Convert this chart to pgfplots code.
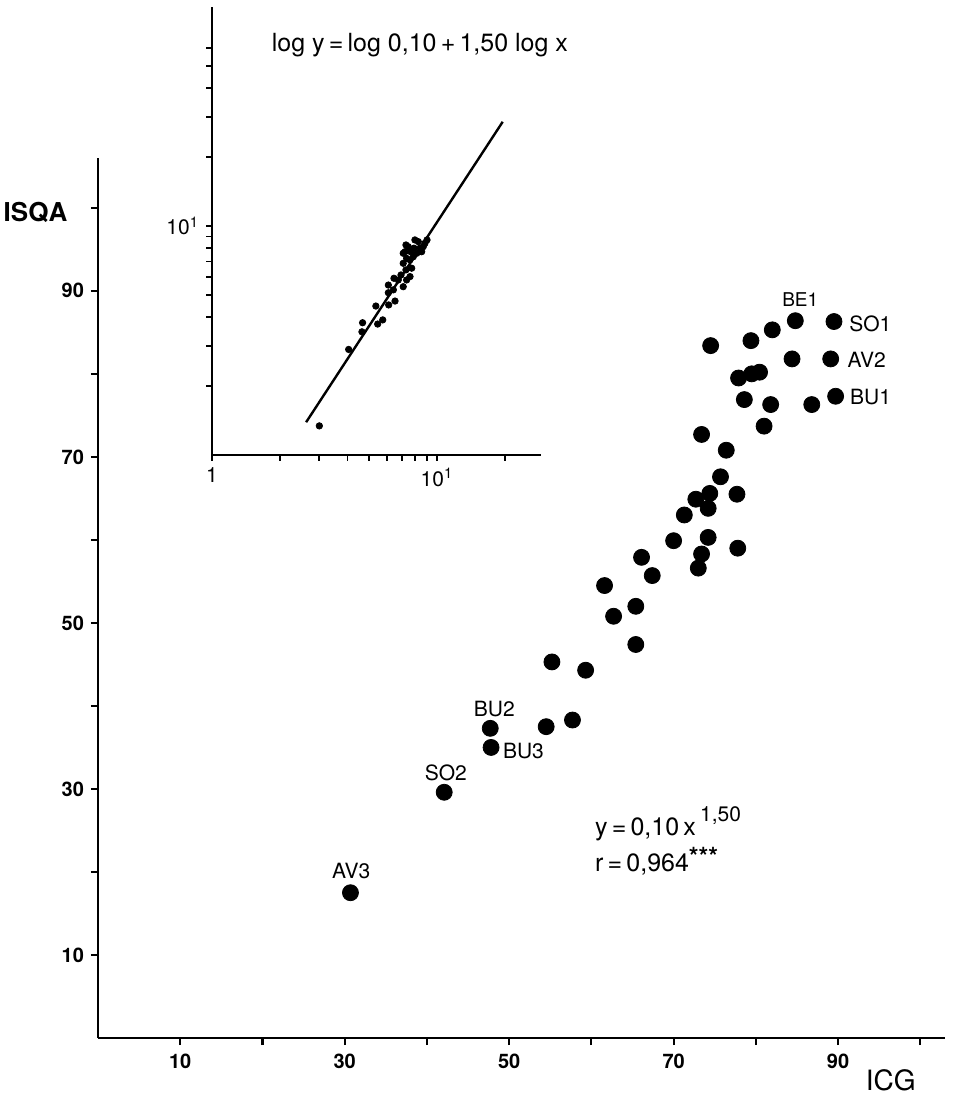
\documentclass[border=0pt]{standalone}
\usepackage{pgfplots}
\pgfplotsset{compat=1.18}
\usepackage{fontspec}
\setmainfont{TeX Gyre Heros}
\begin{document}
\begin{tikzpicture}
\useasboundingbox (-49pt,-30.5pt) rectangle (428pt,519pt);
\begin{axis}[
  at={(0pt,0pt)}, anchor=south west,
  scale only axis, width=423.5pt, height=440pt,
  xmin=0, xmax=103, ymin=0, ymax=106,
  axis lines=left, axis line style={-, line width=1.3pt, black},
  tick align=outside, major tick length=3.5pt,
  tick style={line width=1.1pt, black},
  xtick={10,20,...,100}, xticklabels={10,,30,,50,,70,,90,},
  ytick={10,20,...,100}, yticklabels={10,,30,,50,,70,,90,},
  tick label style={font=\bfseries\fontsize{10}{12}\selectfont},
  xticklabel style={yshift=-1pt},
  clip=false,
]
\addplot[only marks, mark=*, mark size=4pt, mark options={fill=black, draw=black}] coordinates {
(30.7,17.5) (42.1,29.6) (47.7,37.3) (47.8,35.0) (54.5,37.5) (57.7,38.3)
(55.2,45.3) (59.3,44.3) (61.6,54.5) (62.7,50.8) (65.4,52.0) (65.4,47.4)
(66.1,57.9) (67.4,55.7) (70.0,59.9) (71.3,63.0) (72.7,64.9) (73.0,56.6)
(73.4,58.3) (74.2,60.3) (74.2,63.8) (74.4,65.6) (73.4,72.7) (75.7,67.6)
(76.4,70.8) (77.7,65.5) (77.8,59.0) (74.5,83.4) (78.6,76.9) (79.4,84.0)
(77.9,79.5) (79.5,80.0) (80.45,80.2) (81.0,73.7) (81.8,76.3) (82.0,85.3)
(84.4,81.8) (84.8,86.4) (86.8,76.3) (89.5,86.3) (89.1,81.8) (89.7,77.3)
};
\node[font=\fontsize{9.5}{10}\selectfont] at (axis cs:85.4,88.9) {BE1};
\node[font=\fontsize{10.5}{11}\selectfont, anchor=west] at (axis cs:90.5,86.0) {SO1};
\node[font=\fontsize{10.5}{11}\selectfont, anchor=west] at (axis cs:90.3,81.7) {AV2};
\node[font=\fontsize{10.5}{11}\selectfont, anchor=west] at (axis cs:90.6,77.2) {BU1};
\node[font=\fontsize{10.5}{11}\selectfont] at (axis cs:48.2,39.6) {BU2};
\node[font=\fontsize{10.5}{11}\selectfont, anchor=west] at (axis cs:48.4,34.6) {BU3};
\node[font=\fontsize{10.5}{11}\selectfont] at (axis cs:42.3,31.9) {SO2};
\node[font=\fontsize{10.5}{11}\selectfont] at (axis cs:30.8,20.1) {AV3};
\node[font=\fontsize{12.5}{14}\selectfont, anchor=west] at (axis cs:59.6,25.8) {y\,=\,0,10\,x\,\raisebox{1.0ex}{\fontsize{10.5}{11}\selectfont 1,50}};
\node[font=\fontsize{12.5}{14}\selectfont, anchor=west] at (axis cs:59.6,21.3) {r\,=\,0,964\raisebox{0.5ex}{\bfseries ***}};
\node[font=\bfseries\fontsize{13}{15}\selectfont] at (axis cs:-7.6,99.4) {ISQA};
\node[font=\fontsize{14}{16}\selectfont] at (axis cs:96.4,-5.1) {ICG};
\end{axis}
\begin{axis}[
  at={(57pt,291.5pt)}, anchor=south west,
  scale only axis, width=164.5pt, height=223.8pt,
  xmode=log, ymode=log,
  xmin=1, xmax=29, ymin=1, ymax=90,
  axis lines=left, axis line style={-, line width=1.1pt, black},
  tick align=outside, major tick length=3pt, minor tick length=3pt,
  tick style={line width=0.9pt, black},
  xtick={1,10}, xticklabels={1,10\textsuperscript{1}},
  minor xtick={2,3,4,5,6,7,8,9,20},
  ytick={10}, yticklabels={10\textsuperscript{1}},
  minor ytick={2,3,4,5,6,7,8,9,20,30,40,50,60},
  tick label style={font=\fontsize{10.5}{12}\selectfont},
  clip=false,
]
\addplot[line width=1.2pt, black] coordinates {(2.62,1.39) (19.6,28.5)};
\addplot[only marks, mark=*, mark size=1.6pt, mark options={fill=black, draw=black}] coordinates {
(3.00,1.34) (4.05,2.89) (4.67,3.78) (4.64,3.45) (5.35,4.47) (5.45,3.73)
(5.74,3.89) (6.10,4.52) (6.51,4.70) (6.08,5.52) (6.08,5.11) (6.40,5.26)
(6.44,5.91) (6.73,5.81) (6.92,6.11) (7.08,5.43) (7.28,6.43) (7.59,6.01)
(7.33,5.81) (7.72,6.54) (7.08,6.87) (7.33,7.22) (7.21,7.72) (7.45,8.12)
(7.85,7.34) (8.13,7.60) (8.40,8.00) (8.26,8.54) (8.69,8.12) (7.59,7.11)
(7.90,8.00) (8.55,7.72) (7.64,7.72) (8.84,8.40) (7.28,8.26) (7.08,7.60)
(9.03,8.69) (7.98,8.69)
};
\node[font=\fontsize{12.5}{14}\selectfont] at (axis cs:8.4,61.7) {log y\,=\,log 0,10\,+\,1,50 log x};
\end{axis}
\end{tikzpicture}
\end{document}
